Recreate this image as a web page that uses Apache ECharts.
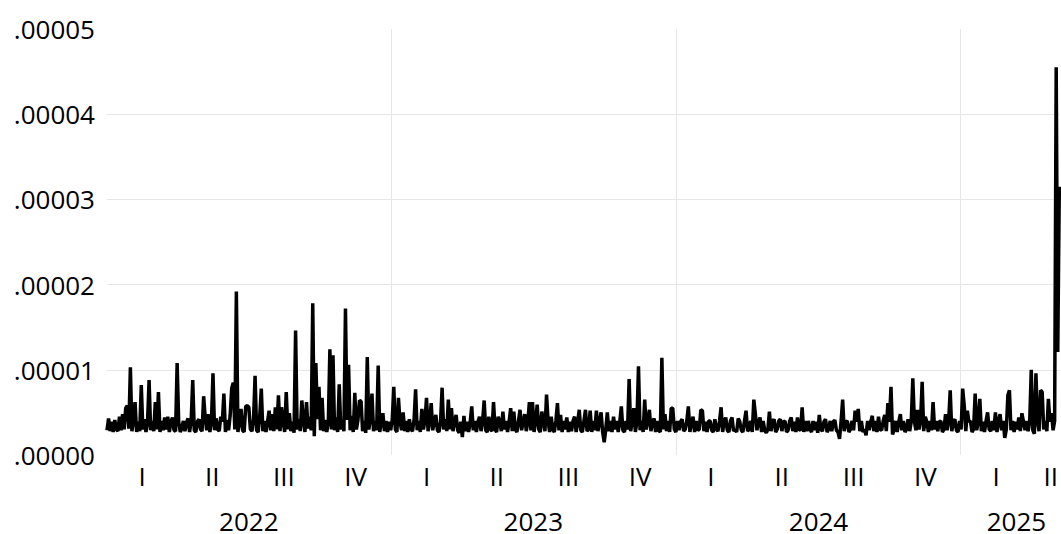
<!DOCTYPE html>
<html>
<head>
<meta charset="utf-8">
<script src="https://cdn.jsdelivr.net/npm/echarts@6/dist/echarts.min.js"></script>
<style>
html,body{margin:0;padding:0;background:#fff;}
#chart{width:1061px;height:534px;}
</style>
</head>
<body>
<div id="chart"></div>
<script>
// Series sampled every 2 days starting 2022-01-01 (values in units of 1e-6)
const startDate = '2022-01-01';
const stepDays = 2;
const values = [
2.9,4.3,2.8,3.9,2.7,4.1,3.0,2.8,4.5,2.9,
4.8,3.0,5.5,5.8,3.1,10.3,2.8,4.1,6.2,2.7,
3.9,2.8,8.2,3.0,4.2,2.7,3.8,8.8,2.9,4.0,
2.8,6.2,3.0,7.4,2.7,4.0,2.9,4.4,3.0,4.5,
2.7,3.9,4.4,2.9,2.8,10.8,3.9,2.7,3.1,4.0,
2.8,3.8,4.3,2.7,4.0,8.8,2.9,2.7,3.9,4.2,
3.0,2.8,6.9,4.4,2.9,4.8,2.7,3.9,9.6,2.9,
4.3,3.0,2.8,4.5,3.9,7.2,2.7,4.1,2.9,4.6,
7.8,8.5,3.0,19.2,2.7,4.0,5.4,2.9,2.7,5.7,
5.8,5.6,3.0,2.8,4.1,9.3,2.9,2.7,4.6,7.8,
2.8,4.0,2.7,3.9,5.2,2.9,4.8,2.8,5.6,3.0,
7.0,2.8,5.6,4.0,2.7,7.4,3.0,4.9,2.8,3.9,
2.6,14.6,3.0,4.2,2.8,6.4,4.0,2.7,6.2,3.1,
4.5,2.9,17.8,2.2,10.8,4.2,8.0,2.9,6.7,2.8,
4.1,2.7,3.9,12.4,3.0,11.7,2.9,4.4,2.7,8.3,
3.0,4.1,2.8,17.2,4.1,10.6,2.9,4.6,2.7,7.3,
3.0,4.1,6.4,6.3,2.8,4.0,2.6,11.5,3.0,4.3,
7.2,2.8,4.0,2.9,10.5,2.7,3.9,4.9,2.8,4.0,
2.7,3.9,2.9,4.1,8.0,3.0,2.7,6.7,3.9,2.9,
5.0,2.8,4.0,2.7,4.2,3.0,2.8,4.1,7.7,2.9,
4.0,2.7,5.4,3.0,4.0,6.7,2.8,3.9,6.1,2.9,
4.0,4.7,2.9,2.7,3.9,7.9,3.0,4.2,2.8,6.5,
3.0,5.5,2.8,4.0,4.7,2.9,2.6,3.9,2.1,4.6,
2.8,3.9,2.7,3.8,5.7,2.9,4.0,2.7,3.9,4.5,
2.8,4.0,6.4,2.9,2.7,4.5,3.0,2.8,6.2,3.0,
2.7,4.5,3.9,2.8,5.1,3.0,4.0,2.7,3.9,5.5,
2.8,5.1,3.0,2.7,4.0,5.3,2.9,3.9,4.8,2.8,
3.9,6.2,2.9,6.2,2.7,4.0,5.9,3.0,2.7,5.1,
3.9,2.8,7.1,4.0,2.7,4.5,3.0,2.7,4.0,6.1,
2.9,4.7,2.7,4.0,3.0,4.4,2.7,3.9,2.8,4.0,
4.5,2.7,3.9,5.3,2.9,2.7,4.0,5.3,2.8,3.0,
5.2,2.7,4.0,2.9,5.2,2.8,3.9,5.0,2.7,1.5,
3.0,5.0,2.8,4.0,2.7,4.5,3.0,4.0,2.7,3.9,
5.7,2.9,2.7,4.0,3.0,8.9,2.8,4.0,5.5,2.7,
3.9,10.4,2.9,4.0,2.7,6.5,3.0,4.0,5.3,2.8,
3.9,4.3,2.7,4.0,2.9,2.7,11.4,3.0,4.8,2.8,
4.0,2.7,5.5,5.5,3.0,2.7,4.0,2.9,3.9,4.2,
2.8,3.0,4.0,5.7,2.7,3.9,4.5,2.7,4.0,2.9,
3.0,5.3,5.2,2.8,3.9,2.7,4.0,4.0,2.9,2.7,
4.2,3.0,2.8,4.0,5.6,2.7,3.9,4.4,2.9,2.7,
4.0,4.4,2.8,3.0,2.7,4.3,3.9,2.9,2.7,4.0,
5.2,2.8,3.0,4.0,2.7,6.5,4.8,2.9,3.9,4.4,
2.7,4.0,2.9,2.6,3.0,5.1,2.8,3.9,4.2,2.7,
3.0,4.0,4.2,2.8,3.9,4.0,2.7,2.9,4.0,4.4,
2.8,3.9,2.7,4.4,3.0,2.9,5.6,2.7,4.0,2.8,
4.0,3.0,2.7,4.0,2.9,3.9,2.6,4.7,3.0,2.8,
3.9,4.2,2.7,3.0,4.0,2.8,3.9,4.1,2.9,2.7,
1.9,4.0,6.5,2.8,3.9,4.0,2.7,3.0,4.0,2.9,
5.2,3.9,5.4,2.8,4.0,2.7,3.0,2.3,4.0,2.9,
3.9,4.6,2.8,4.0,2.7,4.5,3.0,2.9,4.0,4.7,
2.8,6.1,3.9,8.0,2.4,3.0,4.0,2.7,3.9,4.8,
2.9,4.0,2.7,3.0,4.2,2.8,3.9,9.0,4.0,2.9,
5.3,3.0,4.0,8.6,2.8,4.5,3.9,2.7,4.0,2.9,
6.2,3.0,4.0,2.8,3.9,4.0,2.7,3.0,4.8,2.9,
4.0,7.6,2.8,3.9,4.2,2.9,2.7,4.0,3.0,7.8,
5.8,2.8,5.2,3.9,4.0,2.7,3.0,7.2,2.9,4.0,
6.6,2.8,3.9,2.7,4.0,5.0,3.0,2.8,4.0,2.9,
5.0,2.7,3.9,4.8,2.9,4.0,2.0,3.0,7.0,7.6,
2.9,4.0,2.7,3.9,3.0,4.4,2.8,4.9,3.9,2.9,
4.0,2.8,3.9,10.0,2.9,2.5,9.6,4.0,2.8,7.6,
7.4,3.0,4.0,2.8,6.6,3.9,4.9,2.9,4.0,45.5,
12.1,31.5
];

// Axis: days since 2022-01-01 (2025-05-07 = day 1222)
const dayMax = 1222;
const yearBoundaryInterval = 365;
const quarterLabelDays = [45,135,227,319, 410,500,592,684, 775,866,958,1050, 1141,1211];
const quarterLabels    = ['I','II','III','IV','I','II','III','IV','I','II','III','IV','I','II'];
const yearLabelDays = [182, 547, 913, 1167];
const yearLabels    = ['2022','2023','2024','2025'];
const yTicks = [0,10,20,30,40,50];

const data = values.map((v, i) => [i * stepDays, v]);

const FONT = 'Open Sans';
const chart = echarts.init(document.getElementById('chart'), null, {renderer: 'svg'});

const labelAxisBase = {
  type: 'value', min: 0, max: dayMax, gridIndex: 0, position: 'bottom',
  axisLine: {show: false}, axisTick: {show: false}, splitLine: {show: false}
};

chart.setOption({
  animation: false,
  backgroundColor: '#fff',
  grid: {left: 107, right: 0, top: 29, bottom: 77, containLabel: false},
  xAxis: [
    {
      type: 'value', min: 0, max: dayMax, interval: yearBoundaryInterval,
      axisLine: {show: false}, axisTick: {show: false}, axisLabel: {show: false},
      splitLine: {show: true, showMinLine: false, showMaxLine: false,
                  lineStyle: {color: '#e6e6e6', width: 1}}
    },
    Object.assign({}, labelAxisBase, {
      axisLabel: {
        show: true, customValues: quarterLabelDays, margin: 8,
        fontFamily: FONT, fontSize: 26, lineHeight: 26, color: '#000',
        formatter: v => quarterLabels[quarterLabelDays.indexOf(Math.round(v))] || ''
      }
    }),
    Object.assign({}, labelAxisBase, {
      axisLabel: {
        show: true, customValues: yearLabelDays, margin: 56,
        fontFamily: FONT, fontSize: 26, lineHeight: 20, color: '#000',
        formatter: v => yearLabels[yearLabelDays.indexOf(Math.round(v))] || ''
      }
    })
  ],
  yAxis: {
    type: 'value', min: yTicks[0], max: yTicks[yTicks.length - 1], interval: 10,
    axisLine: {show: false}, axisTick: {show: false},
    axisLabel: {
      margin: 12, fontFamily: FONT, fontSize: 26, color: '#000',
      formatter: v => (v * 1e-6).toFixed(5).slice(1)
    },
    splitLine: {show: true, showMinLine: false, showMaxLine: false,
                lineStyle: {color: '#e6e6e6', width: 1}}
  },
  series: [{
    type: 'line', xAxisIndex: 0, yAxisIndex: 0,
    data: data, showSymbol: false, symbol: 'none', sampling: null,
    lineStyle: {color: '#000', width: 3.5}, itemStyle: {color: '#000'},
    emphasis: {disabled: true}
  }]
});
</script>
</body>
</html>
